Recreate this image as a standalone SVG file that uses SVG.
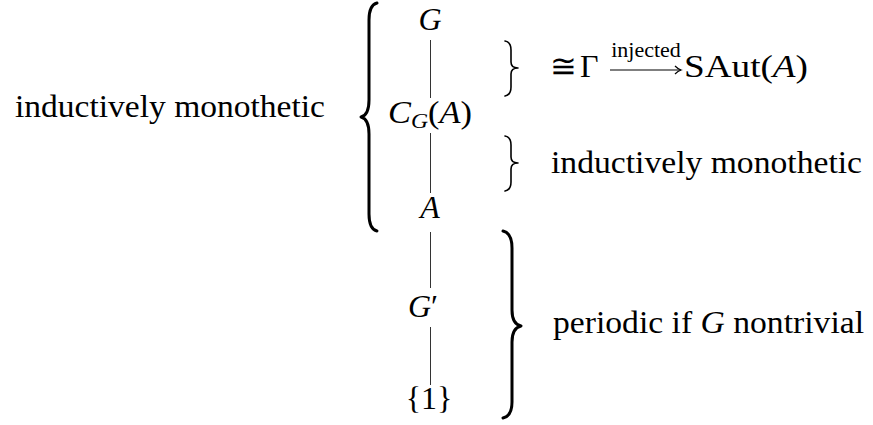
<svg xmlns="http://www.w3.org/2000/svg" width="873" height="425" viewBox="0 0 873 425">
<style>
  .t { font-family: "Liberation Serif", "DejaVu Serif", "Noto Serif", serif; font-size: 32px; fill: #000; }
  .i { font-style: italic; }
  .sub { font-size: 22px; }
  .small { font-size: 22px; }
  .edge { stroke: #333; stroke-width: 1; fill: none; }
  .brace { stroke: #000; fill: none; stroke-linecap: round; stroke-linejoin: round; }
</style>
<defs>
  <marker id="ah" markerWidth="10" markerHeight="10" refX="8" refY="5" orient="auto" markerUnits="userSpaceOnUse">
    <path d="M2,1 Q5,4 8,5 Q5,6 2,9" fill="none" stroke="#000" stroke-width="1.2"/>
  </marker>
</defs>
<rect width="873" height="425" fill="#fff"/>

<g id="connectors">
  <line class="edge" x1="430.5" y1="40" x2="430.5" y2="98"/>
  <line class="edge" x1="430.5" y1="133" x2="430.5" y2="193"/>
  <line class="edge" x1="430.5" y1="232" x2="430.5" y2="288"/>
  <line class="edge" x1="430.5" y1="327" x2="430.5" y2="385"/>
</g>

<g id="node-G"><text class="t i" x="430" y="30" text-anchor="middle">G</text></g>
<g id="node-CGA"><text class="t" x="388" y="123" textLength="84" lengthAdjust="spacingAndGlyphs"><tspan class="i">C</tspan><tspan class="i sub" dy="5">G</tspan><tspan dy="-5">(</tspan><tspan class="i">A</tspan>)</text></g>
<g id="node-A"><text class="t i" x="430" y="218" text-anchor="middle">A</text></g>
<g id="node-Gprime"><text class="t" x="423" y="317" text-anchor="middle"><tspan class="i">G</tspan>′</text></g>
<g id="node-1"><text class="t" x="429" y="409" text-anchor="middle">{1}</text></g>

<g id="brace-left">
  <path class="brace" stroke-width="3" d="M377,3 Q369,5 369,20 L369,100 Q369,115 361,117 Q369,119 369,134 L369,214 Q369,229 377,231"/>
</g>
<g id="brace-top">
  <path class="brace" stroke-width="1.6" d="M505,41 Q511,42 511,50 L511,62 Q511,68 518,68 Q511,68 511,74 L511,87 Q511,95 505,96"/>
</g>
<g id="brace-mid">
  <path class="brace" stroke-width="1.6" d="M505,136 Q511,137 511,145 L511,157 Q511,163 518,163 Q511,163 511,169 L511,182 Q511,190 505,191"/>
</g>
<g id="brace-bottom">
  <path class="brace" stroke-width="3" d="M503,231 Q512,233 512,248 L512,310 Q512,324 521,326 Q512,328 512,342 L512,402 Q512,416 503,418"/>
</g>

<g id="label-left"><text class="t" x="15" y="117" textLength="310" lengthAdjust="spacingAndGlyphs">inductively monothetic</text></g>
<g id="label-iso">
  <text class="t" x="550" y="77">≅</text>
  <text class="t" x="580" y="77">Γ</text>
  <text class="t small" x="646" y="57" text-anchor="middle">injected</text>
  <line x1="610" y1="70" x2="681" y2="70" stroke="#000" stroke-width="1.2" marker-end="url(#ah)"/>
  <text class="t" x="684" y="77" textLength="124" lengthAdjust="spacingAndGlyphs">SAut(<tspan class="i">A</tspan>)</text>
</g>
<g id="label-mid"><text class="t" x="551" y="173" textLength="311" lengthAdjust="spacingAndGlyphs">inductively monothetic</text></g>
<g id="label-periodic"><text class="t" x="553" y="333" textLength="311" lengthAdjust="spacingAndGlyphs">periodic if <tspan class="i">G</tspan> nontrivial</text></g>
</svg>
